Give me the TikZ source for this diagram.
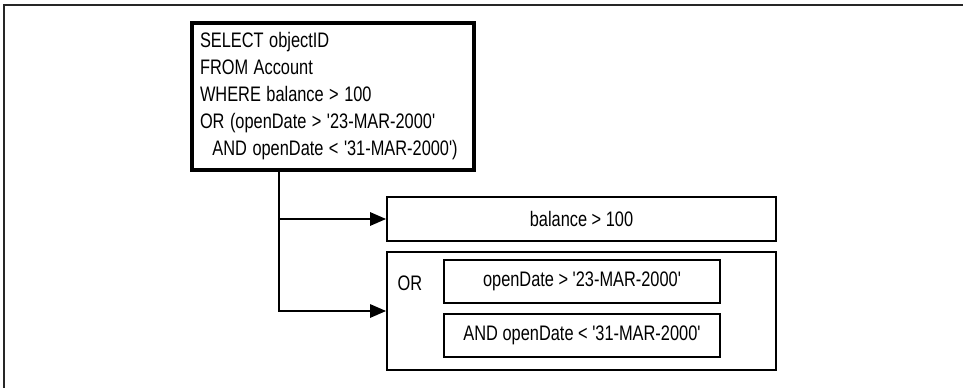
\documentclass[tikz,border=0pt]{standalone}
\usepackage{fontspec}
\setmainfont{Liberation Sans}
\usepackage{graphicx}
\usepackage{tikz}
\usetikzlibrary{calc,arrows.meta}
\newcommand{\qt}{\textquotesingle}
\newcommand{\cond}[1]{\scalebox{0.78}[1]{#1}}

\begin{document}
\begin{tikzpicture}[x=1pt, y=-1pt,
            box/.style={rectangle, draw=black, line width=1.6pt, inner sep=0pt,
                        font=\fontsize{21}{27}\selectfont},
            link/.style={line width=2.6pt, -{Triangle[length=16pt,width=13pt]}}]
        \useasboundingbox (0,0) rectangle (963,388);
        % frame
        \draw[line width=2pt, black!85] (963,4.5) -- (4,4.5) -- (4,388);
        \node[box, line width=4pt, minimum width=282pt, minimum height=147pt,
              inner xsep=8pt, text width=266pt, align=left] (query) at (333,96.5)
              {\cond{\begin{tabular}{@{}l@{}}
               SELECT objectID\\FROM Account\\WHERE balance > 100\\
               OR (openDate > \qt 23-MAR-2000\qt\\
               \hspace*{16pt}AND openDate < \qt 31-MAR-2000\qt)
               \end{tabular}}};
        \node[box, minimum width=389pt, minimum height=44pt]  (bal)    at (581.5,219)   {\cond{balance > 100}};
        \node[box, minimum width=389pt, minimum height=118pt] (orbox)  at (581.5,311)   {};
        \node[font=\fontsize{21}{27}\selectfont]              (ortext) at (410,283)     {\cond{OR}};
        \node[box, minimum width=276pt, minimum height=43pt]  (gt)     at (582,281.5)   {\cond{openDate > \qt 23-MAR-2000\qt}};
        \node[box, minimum width=276pt, minimum height=43pt]  (lt)     at (582,335.5)   {\cond{AND openDate < \qt 31-MAR-2000\qt}};
        \coordinate (split) at ([xshift=-54pt]query.south);
        \draw[link] (split) |- (bal.west);
        \draw[link] (split) |- (orbox.west);
      \end{tikzpicture}
\end{document}
